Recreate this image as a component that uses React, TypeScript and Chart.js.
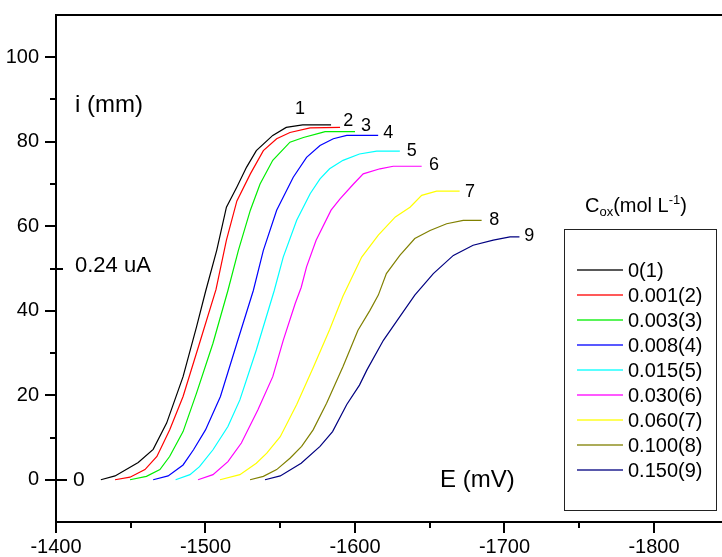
import React, { useEffect, useRef } from 'react';
import { Chart, registerables } from 'chart.js';

Chart.register(...registerables);

const FONT = "'Liberation Sans', Arial, Helvetica, sans-serif";

// Axis ranges / ticks
const xMin = -1845.5;
const xMax = -1400;
const yMin = -10;
const yMax = 110;
const xTickValues = [-1800, -1750, -1700, -1650, -1600, -1550, -1500, -1450, -1400];
const yTickValues = [-10, 0, 10, 20, 30, 40, 50, 60, 70, 80, 90, 100, 110];

// Series names and colours
const seriesLabels = ['0(1)', '0.001(2)', '0.003(3)', '0.008(4)', '0.015(5)', '0.030(6)', '0.060(7)', '0.100(8)', '0.150(9)'];
const seriesColors = ['#000000', '#ff0000', '#00ee00', '#0000ff', '#00ffff', '#ff00ff', '#ffff00', '#808000', '#000080'];

// Curve 1
const e1 = [-1430, -1439.5, -1455, -1465, -1474, -1485, -1494, -1500, -1507.5, -1514, -1521, -1527.5, -1534, -1545, -1554, -1565, -1584];
const i1 = [0, 0.9, 4.1, 7.2, 13.4, 24.4, 36.2, 44.5, 54.3, 64.5, 69.3, 74, 77.9, 81.5, 83.4, 84, 84];
// Curve 2
const e2 = [-1439.5, -1449.5, -1459.5, -1467.5, -1476, -1485, -1496, -1507, -1514, -1521, -1530, -1538.7, -1547.6, -1556.5, -1570, -1590];
const i2 = [0, 0.6, 2.4, 5.5, 11.8, 19.7, 32.3, 45, 56.7, 66, 72.4, 77.9, 80.7, 82.2, 83.3, 83.4];
// Curve 3
const e3 = [-1449.5, -1460.5, -1469.5, -1476, -1485, -1494, -1505, -1515, -1522, -1530, -1536.5, -1545, -1556.5, -1565.5, -1577, -1580, -1600];
const i3 = [0, 0.8, 2.4, 5.5, 11.4, 20.5, 32.3, 44.8, 54.3, 63.8, 70, 75.6, 79.9, 81, 82.1, 82.4, 82.4];
// Curve 4
const e4 = [-1465, -1475, -1485, -1492, -1500, -1510, -1521, -1532, -1538.7, -1547.6, -1558.7, -1567.6, -1576.6, -1585.5, -1594.5, -1615.5];
const i4 = [0, 0.9, 3.5, 7.1, 11.8, 19.7, 32.3, 44.8, 54.3, 63.8, 71.6, 76.3, 79.1, 80.7, 81.5, 81.5];
// Curve 5
const e5 = [-1480, -1489.6, -1496, -1505, -1515, -1523, -1534, -1546, -1552, -1561, -1570, -1576.6, -1583, -1592, -1603, -1614.5, -1630];
const i5 = [0, 1.2, 3.1, 7.1, 12.6, 18.9, 30.7, 44.8, 52.7, 61.4, 67.7, 71.2, 73.6, 75.6, 77.1, 77.8, 77.8];
// Curve 6
const e6 = [-1495, -1505, -1515, -1524, -1535, -1545, -1552, -1560, -1564, -1567.6, -1574, -1584, -1590, -1599, -1605.5, -1616.7, -1625.6, -1644.6];
const i6 = [0, 1.2, 4.3, 8.7, 16.5, 24.4, 33, 41.7, 45.5, 50.4, 56.7, 63.8, 66.5, 70, 72.4, 73.6, 74.2, 74.2];
// Curve 7
const e7 = [-1509.7, -1523, -1534, -1541, -1550, -1561, -1572, -1583, -1592, -1604.5, -1615.6, -1627, -1636.8, -1644.6, -1654.6, -1670];
const i7 = [0, 1.2, 3.9, 6.3, 10.2, 17.8, 26.5, 35.5, 43.5, 52.7, 57.9, 62.2, 64.5, 67.3, 68.3, 68.3];
// Curve 8
const e8 = [-1529.8, -1538.7, -1547.6, -1556.5, -1564.3, -1572, -1581, -1592, -1602, -1610, -1615.6, -1621, -1630, -1640, -1650.2, -1661.3, -1672.4, -1684.7];
const i8 = [0, 0.8, 2.4, 5.1, 7.9, 11.8, 18.1, 26.8, 35.4, 40.1, 43.7, 48.8, 53.1, 57.1, 59, 60.6, 61.4, 61.4];
// Curve 9
const e9 = [-1539.8, -1550, -1564, -1576.6, -1585, -1594.5, -1603, -1608, -1619, -1630, -1640, -1652.4, -1665.8, -1679, -1692.5, -1703.7, -1710];
const i9 = [0, 0.9, 3.9, 7.9, 11.4, 17.8, 22.4, 26, 33, 38.6, 43.7, 48.8, 53.1, 55.5, 56.7, 57.5, 57.5];

const curvesE = [e1, e2, e3, e4, e5, e6, e7, e8, e9];
const curvesI = [i1, i2, i3, i4, i5, i6, i7, i8, i9];

// Curve number tags (data coordinates)
const tagText = ['1', '2', '3', '4', '5', '6', '7', '8', '9'];
const tagE = [-1563.2, -1595.5, -1607.4, -1622.3, -1637.9, -1652.8, -1676.9, -1693.2, -1716.6];
const tagI = [87.7, 84.8, 83.8, 82.1, 77.9, 74.4, 68.1, 61.5, 57.8];

const decorPlugin = {
  id: 'decor',
  afterDraw(chart: any) {
    const { ctx, chartArea, scales } = chart;
    const xs = scales.x;
    const ys = scales.y;
    ctx.save();
    ctx.strokeStyle = '#000';
    ctx.fillStyle = '#000';
    ctx.lineWidth = 2;
    ctx.lineCap = 'butt';

    // top frame line
    ctx.beginPath();
    ctx.moveTo(chartArea.left - 1, chartArea.top);
    ctx.lineTo(chartArea.right, chartArea.top);
    ctx.stroke();

    // x tick marks
    for (const t of xs.ticks) {
      const v = t.value;
      const major = Math.abs(v % 100) < 1e-6;
      const px = Math.round(xs.getPixelForValue(v));
      ctx.beginPath();
      ctx.moveTo(px, chartArea.bottom);
      ctx.lineTo(px, chartArea.bottom + (major ? 11 : 6));
      ctx.stroke();
    }
    // y tick marks
    for (const t of ys.ticks) {
      const v = t.value;
      if (v <= ys.min || v >= ys.max) continue;
      const major = Math.abs(v % 20) < 1e-6;
      const py = Math.round(ys.getPixelForValue(v));
      ctx.beginPath();
      ctx.moveTo(chartArea.left - (major ? 11 : 6), py);
      ctx.lineTo(chartArea.left, py);
      ctx.stroke();
    }

    // annotation dashes and texts
    const p0 = Math.round(ys.getPixelForValue(0));
    const p50 = Math.round(ys.getPixelForValue(50));
    ctx.beginPath();
    ctx.moveTo(chartArea.left, p0);
    ctx.lineTo(chartArea.left + 11, p0);
    ctx.moveTo(chartArea.left, p50);
    ctx.lineTo(chartArea.left + 7, p50);
    ctx.stroke();

    ctx.textAlign = 'left';
    ctx.textBaseline = 'alphabetic';
    ctx.font = `24px ${FONT}`;
    ctx.fillText('i (mm)', 75, 112);
    ctx.fillText('E (mV)', 440, 487);
    ctx.font = `21px ${FONT}`;
    ctx.fillText('0', 73, 486);
    ctx.font = `22px ${FONT}`;
    ctx.fillText('0.24 uA', 75, 272);

    // curve number tags
    ctx.font = `18px ${FONT}`;
    ctx.textAlign = 'center';
    ctx.textBaseline = 'middle';
    for (let k = 0; k < tagText.length; k++) {
      ctx.fillText(tagText[k], xs.getPixelForValue(tagE[k]), ys.getPixelForValue(tagI[k]));
    }

    // legend title
    ctx.textAlign = 'left';
    ctx.textBaseline = 'alphabetic';
    let tx = 585;
    const by = 212;
    ctx.font = `20px ${FONT}`;
    ctx.fillText('C', tx, by);
    tx += ctx.measureText('C').width;
    ctx.font = `13px ${FONT}`;
    ctx.fillText('ox', tx, by + 4);
    tx += ctx.measureText('ox').width;
    ctx.font = `20px ${FONT}`;
    ctx.fillText('(mol L', tx, by);
    tx += ctx.measureText('(mol L').width;
    ctx.font = `13px ${FONT}`;
    ctx.fillText('-1', tx, by - 8);
    tx += ctx.measureText('-1').width;
    ctx.font = `20px ${FONT}`;
    ctx.fillText(')', tx, by);

    // legend box
    ctx.lineWidth = 1;
    ctx.strokeStyle = '#222';
    ctx.strokeRect(564.5, 229.5, 152, 281);
    ctx.font = `20px ${FONT}`;
    ctx.textBaseline = 'middle';
    chart.data.datasets.forEach((ds: any, k: number) => {
      const y = 270 + k * 25;
      ctx.strokeStyle = ds.borderColor;
      ctx.globalAlpha = 0.65;
      ctx.lineWidth = 2;
      ctx.beginPath();
      ctx.moveTo(577, y);
      ctx.lineTo(623, y);
      ctx.stroke();
      ctx.globalAlpha = 1;
      ctx.fillStyle = '#000';
      ctx.fillText(ds.label, 628, y + 1);
    });

    ctx.restore();
  },
};

export default function App() {
  const canvasRef = useRef<HTMLCanvasElement | null>(null);

  useEffect(() => {
    if (!canvasRef.current) return;
    const datasets = seriesLabels.map((label, k) => ({
      label,
      data: curvesE[k].map((e, j) => ({ x: e, y: curvesI[k][j] })),
      borderColor: seriesColors[k],
      backgroundColor: seriesColors[k],
      borderWidth: 1.2,
      pointRadius: 0,
      tension: 0,
      fill: false,
    }));
    const chart = new Chart(canvasRef.current, {
      type: 'line',
      data: { datasets },
      plugins: [decorPlugin],
      options: {
        responsive: false,
        animation: false,
        layout: { padding: { top: 15, right: 0, left: 0, bottom: 0 } },
        plugins: { legend: { display: false }, tooltip: { enabled: false } },
        scales: {
          x: {
            type: 'linear',
            reverse: true,
            min: xMin,
            max: xMax,
            afterBuildTicks: (s: any) => { s.ticks = xTickValues.map((v) => ({ value: v })); },
            afterFit: (s: any) => {
              s.height = 35;
              s.paddingLeft = 0;
              s.paddingRight = 0;
              s.paddingTop = 0;
              s.paddingBottom = 0;
            },
            grid: { display: false, drawTicks: false },
            border: { display: true, color: '#000', width: 2 },
            ticks: {
              padding: 13,
              maxRotation: 0,
              autoSkip: false,
              color: '#000',
              font: { family: FONT, size: 20 },
              callback: (v: any) => (Math.abs(Number(v) % 100) < 1e-6 ? String(v) : ''),
            },
          },
          y: {
            type: 'linear',
            min: yMin,
            max: yMax,
            afterBuildTicks: (s: any) => { s.ticks = yTickValues.map((v) => ({ value: v })); },
            afterFit: (s: any) => {
              s.width = 56;
              s.paddingLeft = 0;
              s.paddingRight = 0;
              s.paddingTop = 0;
              s.paddingBottom = 0;
            },
            grid: { display: false, drawTicks: false },
            border: { display: true, color: '#000', width: 2 },
            ticks: {
              padding: 17,
              autoSkip: false,
              color: '#000',
              font: { family: FONT, size: 20 },
              callback: (v: any) => {
                const n = Number(v);
                return n >= 0 && n <= 100 && Math.abs(n % 20) < 1e-6 ? String(n) : '';
              },
            },
          },
        },
      },
    });
    return () => chart.destroy();
  }, []);

  return (
    <div style={{ position: 'absolute', left: 0, top: 0, width: 722, height: 557, background: '#fff' }}>
      <canvas ref={canvasRef} width={722} height={557} style={{ display: 'block' }} />
    </div>
  );
}
